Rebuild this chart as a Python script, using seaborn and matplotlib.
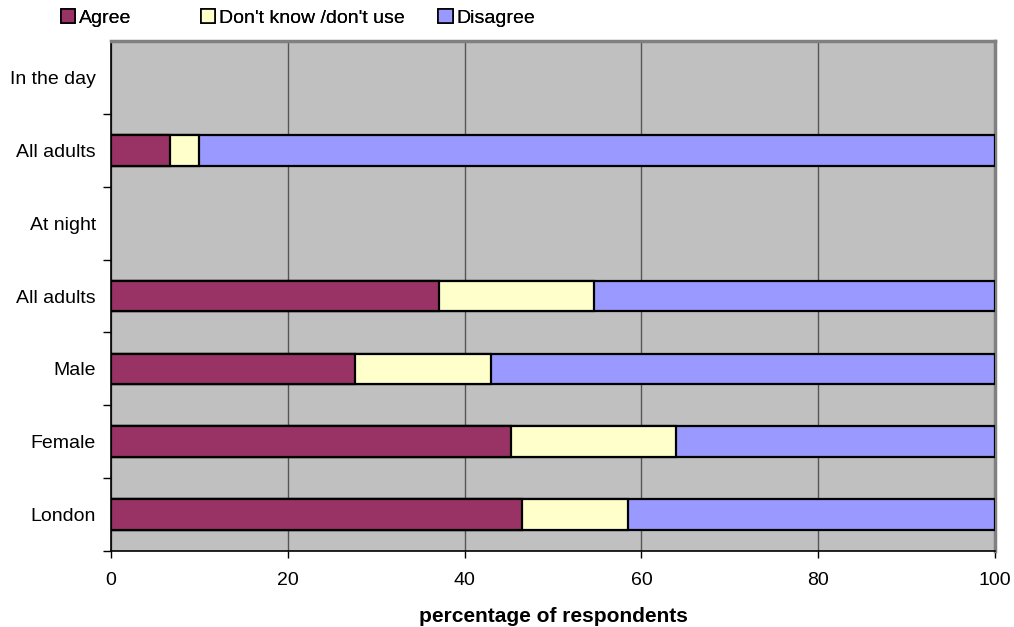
import matplotlib
matplotlib.use("Agg")
import matplotlib.pyplot as plt
from matplotlib.patches import Patch
from matplotlib.ticker import FixedLocator
import seaborn as sns
import pandas as pd

# Row labels top to bottom; "In the day" and "At night" are section headers with no bars
rows = ["In the day", "All adults", "At night", "All adults ", "Male", "Female", "London"]
groups = ["All adults", "All adults ", "Male", "Female", "London"]
agree = [6.7, 37.1, 27.6, 45.2, 46.5]
dont_know = [3.3, 17.5, 15.4, 18.7, 12.0]
disagree = [90.0, 45.4, 57.0, 36.1, 41.5]
series_names = ["Agree", "Don't know /don't use", "Disagree"]
colors = ["#993366", "#FFFFCC", "#9999FF"]
xticks = [0, 20, 40, 60, 80, 100]

df = pd.DataFrame({"group": groups, "agree": agree,
                   "dk": dont_know, "disagree": disagree})
df["cum_dk"] = df["agree"] + df["dk"]
df["cum_all"] = df["cum_dk"] + df["disagree"]

sns.set_style("white")
plt.rcParams["font.family"] = ["Liberation Sans", "DejaVu Sans"]
plt.rcParams["text.color"] = "black"
plt.rcParams["xtick.color"] = "black"
plt.rcParams["ytick.color"] = "black"
plt.rcParams["axes.labelcolor"] = "black"

fig = plt.figure(figsize=(10.14, 6.27), dpi=100)
ax = fig.add_axes([0.1095, 0.1212, 0.8718, 0.8134])
ax.set_facecolor("#C0C0C0")

for col, color in zip(["cum_all", "cum_dk", "agree"], [colors[2], colors[1], colors[0]]):
    sns.barplot(data=df, y="group", x=col, order=rows, orient="h", color=color,
                width=0.42, edgecolor="black", linewidth=1.6, saturation=1,
                ax=ax, zorder=3)

ax.set_xlim(0, 100)
ax.set_ylim(6.5, -0.5)
ax.set_xticks(xticks)
ax.set_xticklabels([str(t) for t in xticks], fontsize=14)
ax.set_yticks(range(len(rows)))
ax.set_yticklabels([r.strip() for r in rows], fontsize=14)
ax.yaxis.set_minor_locator(FixedLocator([i + 0.5 for i in range(len(rows))]))
ax.tick_params(axis="y", which="major", length=0, pad=11)
ax.tick_params(axis="y", which="minor", length=6, width=1, color="black", direction="out", left=True)
ax.tick_params(axis="x", which="major", length=5, width=1, color="black", direction="out",
               bottom=True, pad=10)
ax.set_ylabel("")
ax.set_xlabel("percentage of respondents", fontsize=15, fontweight="bold", labelpad=13)

ax.grid(axis="x", color="#555555", linewidth=1, zorder=1)
ax.set_axisbelow(True)
for side in ["left", "bottom"]:
    ax.spines[side].set_color("black")
    ax.spines[side].set_linewidth(1.2)
for side in ["top", "right"]:
    ax.spines[side].set_color("#808080")
    ax.spines[side].set_linewidth(2.5)

# One legend entry per column slot along the top
legend_x = [0.060, 0.198, 0.432]
for color, name, x in zip(colors, series_names, legend_x):
    leg = fig.legend([Patch(facecolor=color, edgecolor="black", linewidth=1.2)], [name],
                     loc="upper left", bbox_to_anchor=(x, 0.986), frameon=False,
                     fontsize=14, handlelength=0.75, handleheight=0.75,
                     handletextpad=0.2, borderpad=0, borderaxespad=0)
    fig.add_artist(leg)

fig.savefig("out.png", dpi=100)
